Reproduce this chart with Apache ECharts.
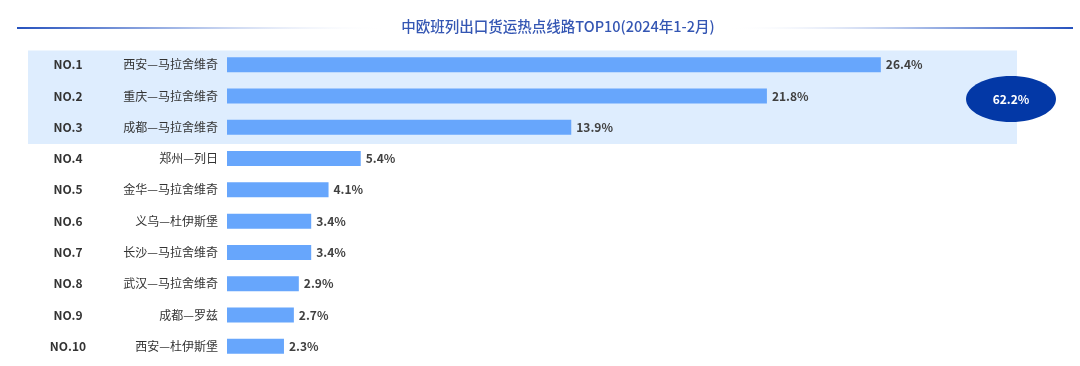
<!DOCTYPE html>
<html>
<head>
<meta charset="utf-8">
<script src="https://cdn.jsdelivr.net/npm/echarts@6/dist/echarts.min.js"></script>
<style>
html,body{margin:0;padding:0;background:#fff;}
#c{width:1080px;height:366px;}
</style>
</head>
<body>
<div id="c"></div>
<script>
const titleText = '中欧班列出口货运热点线路TOP10(2024年1-2月)';
const ranks = ['NO.1','NO.2','NO.3','NO.4','NO.5','NO.6','NO.7','NO.8','NO.9','NO.10'];
const routes = ['西安—马拉舍维奇','重庆—马拉舍维奇','成都—马拉舍维奇','郑州—列日','金华—马拉舍维奇','义乌—杜伊斯堡','长沙—马拉舍维奇','武汉—马拉舍维奇','成都—罗兹','西安—杜伊斯堡'];
const values = [26.4, 21.8, 13.9, 5.4, 4.1, 3.4, 3.4, 2.9, 2.7, 2.3];
const topShareLabel = '62.2%';
const highlightCount = 3;

const FONT = '"Noto Sans CJK SC","Noto Sans",sans-serif';
const chart = echarts.init(document.getElementById('c'), null, {renderer: 'canvas'});

const option = {
  animation: false,
  backgroundColor: '#ffffff',
  grid: {left: 227, right: 110, top: 49, height: 313, containLabel: false},
  xAxis: {type: 'value', min: 0, max: 30, show: false},
  yAxis: {
    type: 'category',
    inverse: true,
    data: routes,
    axisLine: {show: false},
    axisTick: {show: false},
    splitLine: {show: false},
    axisLabel: {
      margin: 9,
      fontFamily: FONT,
      formatter: function (v, i) { return '{no|' + ranks[i] + '}{name|' + v + '}'; },
      rich: {
        no: {width: 100, align: 'center', fontWeight: 'bold', fontSize: 12, color: '#333', fontFamily: FONT},
        name: {width: 100, align: 'right', fontSize: 12, color: '#333', fontFamily: FONT}
      }
    }
  },
  series: [{
    type: 'bar',
    data: values,
    barWidth: 15,
    z: 3,
    itemStyle: {color: '#67a6fc'},
    label: {
      show: true,
      position: 'right',
      distance: 5,
      formatter: '{c}%',
      fontFamily: FONT,
      fontSize: 12,
      fontWeight: 'bold',
      color: '#404040'
    }
  }]
};
chart.setOption(option);

// decorations computed from the axes
const c0 = chart.convertToPixel({yAxisIndex: 0}, routes[0]);
const c1 = chart.convertToPixel({yAxisIndex: 0}, routes[1]);
const band = c1 - c0;
const cLast = chart.convertToPixel({yAxisIndex: 0}, routes[highlightCount - 1]);
const hTop = c0 - band / 2 + 1.5;
const hBot = cLast + band / 2 + 1;

chart.setOption({
  graphic: [
    {
      type: 'text', z: 5, silent: true,
      x: 558, y: 26,
      style: {text: titleText, align: 'center', verticalAlign: 'middle', fill: '#3456b3',
              font: '500 14.5px ' + FONT}
    },
    {
      type: 'rect', z: 0, silent: true,
      shape: {x: 28, y: hTop, width: 989, height: hBot - hTop},
      style: {fill: '#deedfe'}
    },
    {
      type: 'ellipse', z: 10, silent: true,
      shape: {cx: 1011, cy: (c0 + cLast) / 2 + 3, rx: 45, ry: 23},
      style: {fill: '#0338a6'}
    },
    {
      type: 'text', z: 11, silent: true,
      x: 1011, y: (c0 + cLast) / 2 + 3,
      style: {text: topShareLabel, align: 'center', verticalAlign: 'middle', fill: '#fff',
              font: 'bold 12px ' + FONT}
    },
    {
      type: 'line', z: 1, silent: true,
      shape: {x1: 17, y1: 28, x2: 384, y2: 28},
      style: {lineWidth: 2, stroke: new echarts.graphic.LinearGradient(0, 0, 1, 0, [
        {offset: 0, color: '#2450bd'}, {offset: 0.45, color: '#a7bbe8'}, {offset: 1, color: 'rgba(255,255,255,0)'}])}
    },
    {
      type: 'line', z: 1, silent: true,
      shape: {x1: 730, y1: 28, x2: 1073, y2: 28},
      style: {lineWidth: 2, stroke: new echarts.graphic.LinearGradient(0, 0, 1, 0, [
        {offset: 0, color: 'rgba(255,255,255,0)'}, {offset: 0.55, color: '#a7bbe8'}, {offset: 1, color: '#2450bd'}])}
    }
  ]
});
</script>
</body>
</html>
